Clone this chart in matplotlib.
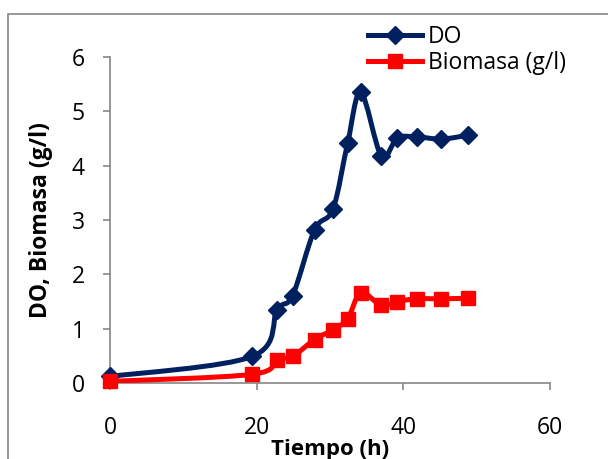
import numpy as np
import matplotlib
matplotlib.use("Agg")
import matplotlib.pyplot as plt
from matplotlib.path import Path
from matplotlib.patches import PathPatch, Rectangle
from matplotlib.lines import Line2D

# data
tiempo = [0, 19.4, 22.8, 24.9, 27.9, 30.4, 32.4, 34.2, 37.0, 39.2, 41.8, 45.2, 48.8]
do_vals = [0.12, 0.49, 1.35, 1.61, 2.82, 3.2, 4.41, 5.35, 4.18, 4.51, 4.53, 4.49, 4.56]
biomasa = [0.03, 0.16, 0.43, 0.49, 0.8, 0.98, 1.18, 1.66, 1.43, 1.5, 1.55, 1.55, 1.56]
xticks = [0, 20, 40, 60]
yticks = [0, 1, 2, 3, 4, 5, 6]

navy = '#002060'
red = '#FF0000'
gray = '#868686'

plt.rcParams['font.family'] = ['Open Sans', 'DejaVu Sans']


def smooth_path(x, y):
    # Excel-like smoothed line: cubic Bezier segments (Catmull-Rom control points)
    pts = np.column_stack([x, y]).astype(float)
    n = len(pts)
    verts = [pts[0]]
    codes = [Path.MOVETO]
    for i in range(n - 1):
        p0 = pts[max(i - 1, 0)]
        p1 = pts[i]
        p2 = pts[i + 1]
        p3 = pts[min(i + 2, n - 1)]
        c1 = p1 + (p2 - p0) / 6.0
        c2 = p2 - (p3 - p1) / 6.0
        verts += [c1, c2, p2]
        codes += [Path.CURVE4] * 3
    return Path(verts, codes)


fig = plt.figure(figsize=(6.08, 4.59), dpi=100)
ax = fig.add_axes([110/608, 1 - 383/459, 440/608, 326/459])

for ys, col, mk, ms in [(do_vals, navy, 'D', 9.5), (biomasa, red, 's', 10.5)]:
    patch = PathPatch(smooth_path(tiempo, ys), fill=False, edgecolor=col,
                      linewidth=3.6, capstyle='round', joinstyle='round', zorder=3)
    ax.add_patch(patch)
    ax.plot(tiempo, ys, linestyle='none', marker=mk, markersize=ms,
            color=col, zorder=4, clip_on=False)

ax.set_xlim(0, 60)
ax.set_ylim(0, 6)
ax.set_xticks(xticks)
ax.set_yticks(yticks)
ax.spines['top'].set_visible(False)
ax.spines['right'].set_visible(False)
for s in ['left', 'bottom']:
    ax.spines[s].set_color(gray)
    ax.spines[s].set_linewidth(1.2)
ax.tick_params(axis='both', direction='out', length=5, width=1.2, color=gray,
               labelsize=16.5)
ax.tick_params(axis='y', pad=13)
ax.tick_params(axis='x', pad=19)

ax.set_xlabel('Tiempo (h)', fontsize=16, fontweight='bold')
ax.set_ylabel('DO, Biomasa (g/l)', fontsize=16.5, fontweight='bold')
ax.xaxis.set_label_coords(0.5, -0.173)
ax.yaxis.set_label_coords(-0.13, 0.5)

handles = [Line2D([], [], color=navy, lw=3.6, marker='D', markersize=9.5),
           Line2D([], [], color=red, lw=3.6, marker='s', markersize=10.5)]
fig.legend(handles, ['DO', 'Biomasa (g/l)'], loc='upper left',
           bbox_to_anchor=(368/608, 1 - 25/459), bbox_transform=fig.transFigure,
           frameon=False, fontsize=16.5, handlelength=2.35, handletextpad=0.25,
           labelspacing=0.1, borderpad=0, borderaxespad=0)

# outer chart border
fig.patches.append(Rectangle((8/608, -0.05), 1.2, 1 - 14/459 + 0.05,
                             transform=fig.transFigure, fill=False,
                             edgecolor=gray, linewidth=1.2))

fig.savefig('out.png', dpi=100)
